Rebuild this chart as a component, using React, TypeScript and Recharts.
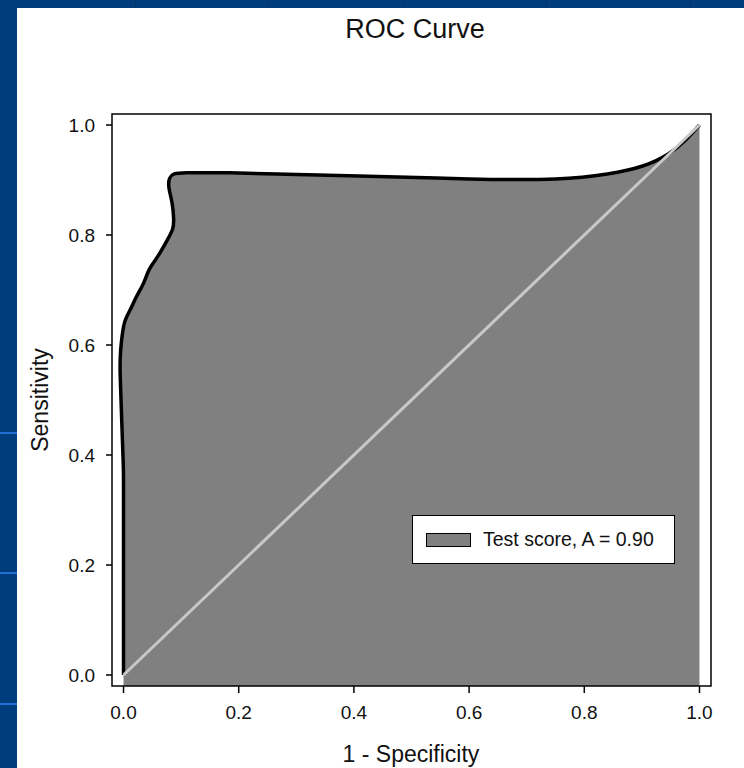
import React from "react";
import {
  ComposedChart,
  Area,
  XAxis,
  YAxis,
  ReferenceLine,
  ReferenceArea,
  Legend,
} from "recharts";

const FONT = "'Liberation Sans', Arial, Helvetica, sans-serif";

// ROC curve points (1 - specificity, sensitivity)
const fpr = [
  0, 0, 0, -0.001, -0.003, -0.005, -0.006, -0.005, -0.002, 0.003, 0.012, 0.023,
  0.035, 0.045, 0.06, 0.075, 0.085, 0.087, 0.084, 0.079, 0.08, 0.088, 0.11,
  0.185, 0.3, 0.425, 0.6, 0.75, 0.84, 0.9, 0.945, 0.975, 1.0,
];
const tpr = [
  0, 0.2, 0.35, 0.4, 0.46, 0.52, 0.56, 0.59, 0.62, 0.645, 0.665, 0.689, 0.713,
  0.738, 0.762, 0.789, 0.81, 0.83, 0.86, 0.885, 0.903, 0.911, 0.913, 0.913,
  0.91, 0.907, 0.902, 0.902, 0.911, 0.925, 0.947, 0.972, 1.0,
];
const axisTicks = [0, 0.2, 0.4, 0.6, 0.8, 1.0];
const domain: [number, number] = [-0.02, 1.02];
const legendLabel = "Test score, A = 0.90";

const rocData = fpr.map((x, i) => ({ x, y: tpr[i] }));

const LegendBox = () => (
  <div
    style={{
      position: "absolute",
      left: 412,
      top: 515,
      width: 261,
      height: 47,
      border: "1.5px solid #000",
      background: "#fff",
      boxSizing: "content-box",
      fontFamily: FONT,
    }}
  >
    <div
      style={{
        position: "absolute",
        left: 13,
        top: 17,
        width: 43,
        height: 12,
        background: "#808080",
        border: "1.5px solid #000",
      }}
    />
    <div
      style={{
        position: "absolute",
        left: 70,
        top: 11,
        fontSize: 19.5,
        lineHeight: "24px",
        color: "#111",
        whiteSpace: "nowrap",
      }}
    >
      {legendLabel}
    </div>
  </div>
);

const topBandLines = [135, 268, 404, 546, 690];
const leftBandLines = [432, 572, 703];

export default function App() {
  return (
    <div
      style={{
        position: "absolute",
        left: 0,
        top: 0,
        width: 744,
        height: 768,
        background: "#013c7c",
        overflow: "hidden",
      }}
    >
      {topBandLines.map((x) => (
        <div
          key={"t" + x}
          style={{ position: "absolute", left: x, top: 0, width: 1, height: 8, background: "#01356d" }}
        />
      ))}
      {leftBandLines.map((y) => (
        <div
          key={"l" + y}
          style={{ position: "absolute", left: 0, top: y, width: 17, height: 2, background: "#1f6fd6" }}
        />
      ))}
      <div
        style={{
          position: "absolute",
          left: 17,
          top: 8,
          width: 727,
          height: 760,
          background: "#fff",
        }}
      />
      <div style={{ position: "absolute", left: 0, top: 0, width: 744, height: 768 }}>
        <svg
          width={744}
          height={768}
          style={{ position: "absolute", left: 0, top: 0, pointerEvents: "none" }}
        >
          <text
            x={415}
            y={38}
            textAnchor="middle"
            fontFamily={FONT}
            fontSize={27}
            fill="#111"
          >
            ROC Curve
          </text>
          <text
            x={411}
            y={762}
            textAnchor="middle"
            fontFamily={FONT}
            fontSize={23}
            fill="#111"
          >
            1 - Specificity
          </text>
          <text
            x={48}
            y={400}
            textAnchor="middle"
            fontFamily={FONT}
            fontSize={23}
            fill="#111"
            transform="rotate(-90 48 400)"
          >
            Sensitivity
          </text>
        </svg>
        <div style={{ position: "absolute", left: 0, top: 0 }}>
          <ComposedChart
            width={744}
            height={768}
            data={rocData}
            margin={{ top: 114, right: 33, bottom: 52, left: 52 }}
          >
            <XAxis
              dataKey="x"
              type="number"
              domain={domain}
              ticks={axisTicks}
              allowDataOverflow
              height={30}
              axisLine={false}
              tickLine={{ stroke: "#000", strokeWidth: 1.5 }}
              tickSize={7}
              tickMargin={13}
              tickFormatter={(v: number) => v.toFixed(1)}
              tick={{ fontFamily: FONT, fontSize: 19, fill: "#111" }}
            />
            <YAxis
              type="number"
              domain={domain}
              ticks={axisTicks}
              allowDataOverflow
              width={60}
              axisLine={false}
              tickLine={{ stroke: "#000", strokeWidth: 1.5 }}
              tickSize={6}
              tickMargin={11}
              tickFormatter={(v: number) => v.toFixed(1)}
              tick={{ fontFamily: FONT, fontSize: 19, fill: "#111" }}
            />
            <Area
              type="natural"
              dataKey="y"
              baseValue="dataMin"
              fill="#808080"
              fillOpacity={1}
              stroke="#000"
              strokeWidth={3.5}
              strokeLinejoin="round"
              dot={false}
              activeDot={false}
              isAnimationActive={false}
            />
            <ReferenceLine
              segment={[
                { x: 0, y: 0 },
                { x: 1, y: 1 },
              ]}
              stroke="#c8c8c8"
              strokeWidth={3}
              ifOverflow="visible"
            />
            <ReferenceArea
              x1={-0.02}
              x2={1.02}
              y1={-0.02}
              y2={1.02}
              fill="none"
              fillOpacity={0}
              stroke="#000"
              strokeWidth={1.5}
              ifOverflow="visible"
            />
            <Legend content={() => null} />
          </ComposedChart>
        </div>
        <LegendBox />
      </div>
    </div>
  );
}
